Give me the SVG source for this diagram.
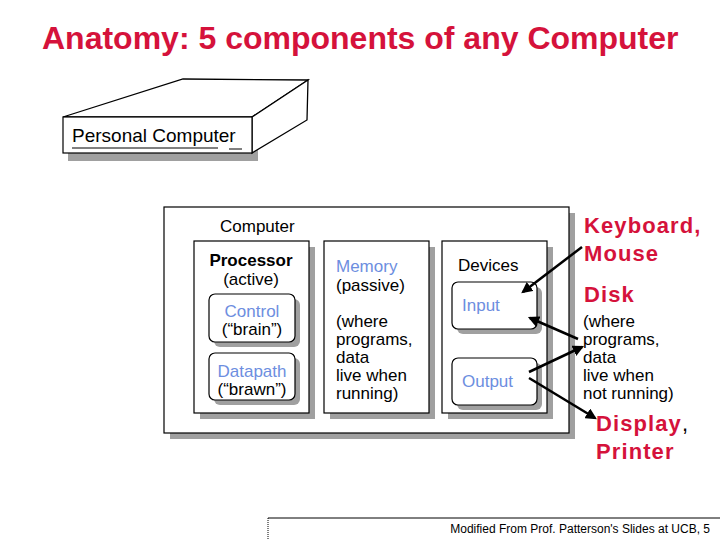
<svg xmlns="http://www.w3.org/2000/svg" width="720" height="540" viewBox="0 0 720 540">
<style>
text{font-family:"Liberation Sans",Arial,sans-serif;}
.red{fill:#d5123b;font-weight:bold;}
.big{font-size:22px;letter-spacing:1.1px;}
.blue{fill:#6d8ee0;}
.box{fill:#fff;stroke:#000;stroke-width:1.2;}
.shadow{fill:#a0a0a0;}
.t17{font-size:17px;}
.conn{stroke:#000;stroke-width:2.5;fill:none;marker-end:url(#ah);}
</style>
<defs>
<marker id="ah" viewBox="0 0 10 10" refX="8" refY="5" markerWidth="4.5" markerHeight="4.5" orient="auto" markerUnits="strokeWidth">
<path d="M0,0 L10,5 L0,10 z" fill="#000"/>
</marker>
</defs>
<rect width="720" height="540" fill="#fff"/>
<text id="title" x="42" y="49" class="red" font-size="32">Anatomy: 5 components of any Computer</text>

<g id="personal-computer">
<rect class="shadow" x="68" y="124" width="190" height="37"/>
<polygon points="63,117 183,79 308,80 252,117" fill="#fff" stroke="#000" stroke-width="1.3"/>
<polygon points="252,117 308,80 307,120 252,153" fill="#fff" stroke="#000" stroke-width="1.3"/>
<rect class="box" x="63" y="117" width="189" height="36"/>
<text x="72" y="142" font-size="19">Personal Computer</text>
<line x1="72" y1="148" x2="218" y2="148" stroke="#000" stroke-width="1"/>
<line x1="229" y1="149" x2="242" y2="149" stroke="#000" stroke-width="1"/>
</g>

<g id="computer">
<rect class="shadow" x="170" y="213" width="405" height="226"/>
<rect class="box" x="164" y="207" width="405" height="226"/>
<text x="220" y="232" class="t17">Computer</text>
</g>

<g id="processor">
<rect class="shadow" x="200" y="247" width="115" height="172"/>
<rect class="box" x="194" y="241" width="115" height="172"/>
<text x="251" y="266" class="t17" text-anchor="middle" font-weight="bold" font-size="16">Processor</text>
<text x="251" y="285" class="t17" text-anchor="middle">(active)</text>
</g>

<g id="control">
<rect class="shadow" x="214" y="299" width="86" height="48" rx="6"/>
<rect class="box" x="209" y="294" width="86" height="48" rx="6"/>
<text x="252" y="317" class="t17 blue" text-anchor="middle">Control</text>
<text x="252" y="335" class="t17" text-anchor="middle">(“brain”)</text>
</g>

<g id="datapath">
<rect class="shadow" x="214" y="358" width="86" height="47" rx="6"/>
<rect class="box" x="209" y="353" width="86" height="47" rx="6"/>
<text x="252" y="377" class="t17 blue" text-anchor="middle">Datapath</text>
<text x="252" y="395" class="t17" text-anchor="middle">(“brawn”)</text>
</g>

<g id="memory">
<rect class="shadow" x="330" y="247" width="105" height="172"/>
<rect class="box" x="324" y="241" width="105" height="172"/>
<text x="336" y="272" class="t17 blue">Memory</text>
<text x="336" y="291" class="t17">(passive)</text>
<text x="336" y="327" class="t17">(where</text>
<text x="336" y="345" class="t17">programs,</text>
<text x="336" y="363" class="t17">data</text>
<text x="336" y="381" class="t17">live when</text>
<text x="336" y="399" class="t17">running)</text>
</g>

<g id="devices">
<rect class="shadow" x="448" y="247" width="105" height="172"/>
<rect class="box" x="442" y="241" width="105" height="172"/>
<text x="458" y="271" class="t17">Devices</text>
</g>

<g id="input">
<rect class="shadow" x="457" y="287" width="85" height="47" rx="6"/>
<rect class="box" x="452" y="282" width="85" height="47" rx="6"/>
<text x="462" y="311" class="t17 blue">Input</text>
</g>

<g id="output">
<rect class="shadow" x="457" y="363" width="85" height="47" rx="6"/>
<rect class="box" x="452" y="358" width="85" height="47" rx="6"/>
<text x="462" y="387" class="t17 blue">Output</text>
</g>

<g id="external">
<text x="584" y="233" class="red big">Keyboard,</text>
<text x="584" y="261" class="red big">Mouse</text>
<text x="584" y="302" class="red big">Disk</text>
<text x="583" y="327" class="t17">(where</text>
<text x="583" y="345" class="t17">programs,</text>
<text x="583" y="363" class="t17">data</text>
<text x="583" y="381" class="t17">live when</text>
<text x="583" y="399" class="t17">not running)</text>
<text x="596" y="431" class="big"><tspan class="red">Display</tspan>,</text>
<text x="596" y="459" class="red big">Printer</text>
</g>

<g id="connectors">
<line class="conn" x1="582" y1="247" x2="523" y2="292"/>
<line class="conn" x1="578" y1="339" x2="530" y2="318"/>
<line class="conn" x1="529" y1="372" x2="582" y2="347"/>
<line class="conn" x1="529" y1="378" x2="595" y2="418"/>
</g>

<g id="footer">
<line x1="268" y1="518" x2="268" y2="540" stroke="#000" stroke-width="1" stroke-dasharray="1,1"/>
<line x1="268" y1="518" x2="720" y2="518" stroke="#000" stroke-width="1"/>
<text x="710" y="533" font-size="12" text-anchor="end">Modified From Prof. Patterson's Slides at UCB,  5</text>
</g>
</svg>
